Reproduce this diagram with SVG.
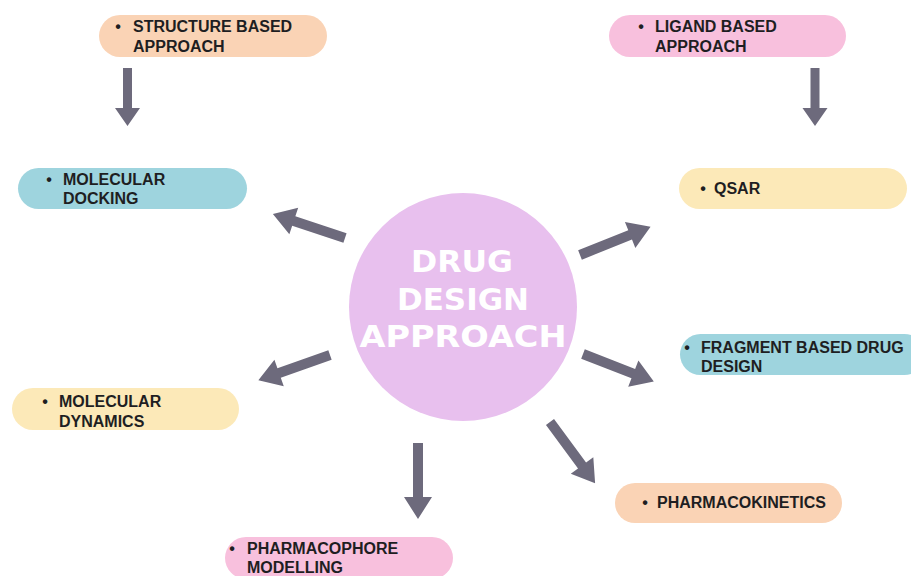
<svg xmlns="http://www.w3.org/2000/svg" width="911" height="576" viewBox="0 0 911 576">
  <defs>
    <style>
      .lbl { font-family: "Liberation Sans", Arial, sans-serif; font-weight: bold; font-size: 16px; fill: #1e1e22; }
      .dot { font-family: "Liberation Sans", Arial, sans-serif; font-weight: bold; font-size: 16px; fill: #1e1e22; text-anchor: middle; }
      .hub { font-family: "DejaVu Sans", "Liberation Sans", sans-serif; font-weight: bold; font-size: 30px; fill: #ffffff; text-anchor: middle; }
      .peach { fill: #fad3b5; }
      .pink { fill: #f8c0dd; }
      .teal { fill: #9ed4de; }
      .yellow { fill: #fce9b8; }
      .arrow { fill: #6d6a7c; }
    </style>
    <!-- block arrows pointing along +x, tail at origin -->
    <path id="arrowShort" d="M0,-4.5 H40 V-12.5 L58,0 L40,12.5 V4.5 H0 Z"/>
    <path id="arrowLong" d="M0,-5 H54 V-14 L76,0 L54,14 V5 H0 Z"/>
  </defs>

  <rect width="911" height="576" fill="#ffffff"/>

  <g id="connectors" class="arrow">
    <use href="#arrowShort" transform="translate(127.5,68) rotate(90)"/>
    <use href="#arrowShort" transform="translate(815,68) rotate(90)"/>
    <use href="#arrowLong" transform="translate(345,238) rotate(198.4)"/>
    <use href="#arrowLong" transform="translate(580,255) rotate(-21.8)"/>
    <use href="#arrowLong" transform="translate(330,355) rotate(160.5)"/>
    <use href="#arrowLong" transform="translate(583,354) rotate(21.3)"/>
    <use href="#arrowLong" transform="translate(550,422) rotate(53.6)"/>
    <use href="#arrowLong" transform="translate(418,443) rotate(90)"/>
  </g>

  <g id="hub">
    <circle cx="463" cy="307" r="114" fill="#e8c0ee"/>
    <text class="hub" x="462" y="272" textLength="102" lengthAdjust="spacingAndGlyphs">DRUG</text>
    <text class="hub" x="463" y="310" textLength="132" lengthAdjust="spacingAndGlyphs">DESIGN</text>
    <text class="hub" x="463" y="347" textLength="207" lengthAdjust="spacingAndGlyphs">APPROACH</text>
  </g>

  <g id="structure-based">
    <rect class="peach" x="99" y="15" width="228" height="42" rx="21"/>
    <text class="dot" x="118" y="32">•</text>
    <text class="lbl" x="133" y="32">STRUCTURE BASED</text>
    <text class="lbl" x="133" y="52">APPROACH</text>
  </g>

  <g id="ligand-based">
    <rect class="pink" x="609" y="15" width="237" height="42" rx="21"/>
    <text class="dot" x="641" y="32">•</text>
    <text class="lbl" x="655" y="32">LIGAND BASED</text>
    <text class="lbl" x="655" y="52">APPROACH</text>
  </g>

  <g id="molecular-docking">
    <rect class="teal" x="18" y="168" width="229" height="41" rx="20.5"/>
    <text class="dot" x="49" y="185">•</text>
    <text class="lbl" x="63" y="185">MOLECULAR</text>
    <text class="lbl" x="63" y="204">DOCKING</text>
  </g>

  <g id="qsar">
    <rect class="yellow" x="679" y="168" width="228" height="41" rx="20.5"/>
    <text class="dot" x="703" y="194">•</text>
    <text class="lbl" x="714" y="194">QSAR</text>
  </g>

  <g id="molecular-dynamics">
    <rect class="yellow" x="12" y="388" width="227" height="42" rx="21"/>
    <text class="dot" x="45" y="407">•</text>
    <text class="lbl" x="59" y="407">MOLECULAR</text>
    <text class="lbl" x="59" y="427">DYNAMICS</text>
  </g>

  <g id="fragment-based">
    <rect class="teal" x="680" y="334" width="245" height="41" rx="20.5"/>
    <text class="dot" x="687" y="353">•</text>
    <text class="lbl" x="701" y="353">FRAGMENT BASED DRUG</text>
    <text class="lbl" x="701" y="372">DESIGN</text>
  </g>

  <g id="pharmacokinetics">
    <rect class="peach" x="615" y="483" width="227" height="40" rx="20"/>
    <text class="dot" x="645" y="508">•</text>
    <text class="lbl" x="657" y="508">PHARMACOKINETICS</text>
  </g>

  <g id="pharmacophore">
    <rect class="pink" x="225" y="537" width="228" height="42" rx="21"/>
    <text class="dot" x="232" y="554">•</text>
    <text class="lbl" x="247" y="554">PHARMACOPHORE</text>
    <text class="lbl" x="247" y="573">MODELLING</text>
  </g>
</svg>
